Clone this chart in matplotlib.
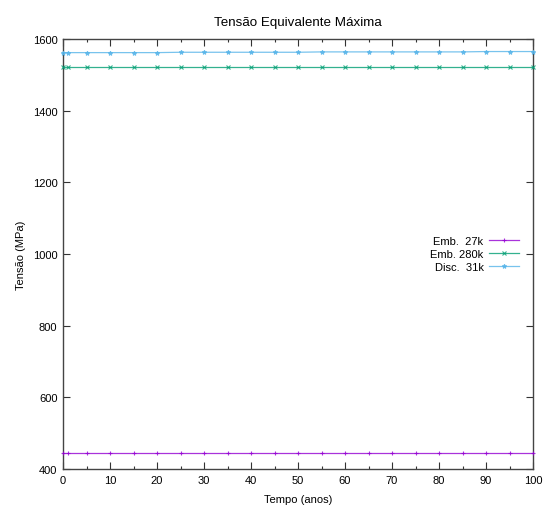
import matplotlib
matplotlib.use("Agg")
import matplotlib.pyplot as plt
from matplotlib.ticker import MultipleLocator

plt.rcParams['font.family'] = ['Liberation Sans', 'DejaVu Sans']
plt.rcParams['font.size'] = 8

# Time (years) and maximum equivalent stress (MPa) for each case
anos = [0, 1, 5, 10, 15, 20, 25, 30, 35, 40, 45, 50, 55, 60, 65, 70, 75, 80, 85, 90, 95, 100]
emb_27k = [446] * 22
emb_280k = [1521] * 22
disc_31k = [1562, 1562, 1562, 1562, 1562, 1562, 1563, 1563, 1563, 1563, 1563,
            1563, 1564, 1564, 1564, 1564, 1564, 1564, 1564, 1565, 1565, 1565]

series = [
    ("Emb.  27k", emb_27k, "#9400d3", "+"),
    ("Emb. 280k", emb_280k, "#009e73", "x"),
    ("Disc.  31k", disc_31k, "#56b4e9", "*"),
]

fig = plt.figure(figsize=(5.43, 5.06), dpi=100)
ax = fig.add_axes([63 / 543, 36 / 506, 470 / 543, 430 / 506])

for label, vals, color, marker in series:
    ax.plot(anos, vals, color=color, lw=0.9, alpha=0.8, marker=marker, ms=3.2, mew=0.8,
            label=label, clip_on=False, zorder=3)

ax.set_xlim(0, 100)
ax.set_ylim(400, 1600)
ax.xaxis.set_major_locator(MultipleLocator(10))
ax.xaxis.set_minor_locator(MultipleLocator(5))
ax.yaxis.set_major_locator(MultipleLocator(200))
ax.tick_params(which='both', direction='in', top=True, right=True, color='#333333', width=0.8)
ax.tick_params(which='major', length=5, pad=4)
ax.tick_params(which='minor', length=2.5)
for s in ax.spines.values():
    s.set_color('#444444')
    s.set_linewidth(1.0)

ax.set_title("Tensão Equivalente Máxima", pad=10)
ax.set_xlabel("Tempo (anos)", labelpad=7)
ax.set_ylabel("Tensão (MPa)", labelpad=5)

leg = ax.legend(loc='center right', bbox_to_anchor=(0.98, 0.50), frameon=False,
                markerfirst=False, handlelength=2.7, handletextpad=0.5,
                labelspacing=0.28, borderaxespad=0)

fig.savefig("out.png", dpi=100)
